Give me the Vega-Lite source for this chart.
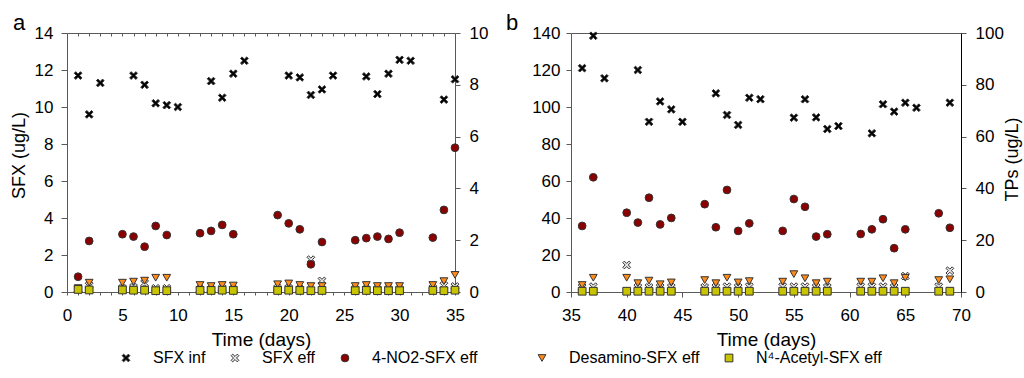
{
  "$schema": "https://vega.github.io/schema/vega-lite/v6.json",
  "padding": {"left": 10, "top": 12, "right": 1, "bottom": 0},
  "autosize": {"type": "pad"},
  "config": {
    "font": "Liberation Sans",
    "view": {"stroke": null},
    "axis": {"grid": false, "labelFontSize": 17, "labelColor": "#000", "titleColor": "#000", "titleFontWeight": "normal", "domainColor": "#595959", "tickColor": "#595959", "labelFlush": false, "labelOverlap": false},
    "legend": {"orient": "none", "direction": "horizontal", "labelFontSize": 16, "labelColor": "#000", "labelOffset": 19, "columnPadding": 21, "padding": 0, "rowPadding": 0, "symbolStrokeColor": "#333", "symbolStrokeWidth": 1},
    "title": {"fontSize": 22, "fontWeight": "normal", "anchor": "start", "color": "#000", "frame": "group", "baseline": "alphabetic"}
  },
  "datasets": {
    "a_sfx": [
      {"day": 1, "series": "SFX inf", "value": 11.7},
      {"day": 2, "series": "SFX inf", "value": 9.6},
      {"day": 3, "series": "SFX inf", "value": 11.3},
      {"day": 6, "series": "SFX inf", "value": 11.7},
      {"day": 7, "series": "SFX inf", "value": 11.2},
      {"day": 8, "series": "SFX inf", "value": 10.2},
      {"day": 9, "series": "SFX inf", "value": 10.1},
      {"day": 10, "series": "SFX inf", "value": 10.0},
      {"day": 13, "series": "SFX inf", "value": 11.4},
      {"day": 14, "series": "SFX inf", "value": 10.5},
      {"day": 15, "series": "SFX inf", "value": 11.8},
      {"day": 16, "series": "SFX inf", "value": 12.5},
      {"day": 20, "series": "SFX inf", "value": 11.7},
      {"day": 21, "series": "SFX inf", "value": 11.6},
      {"day": 22, "series": "SFX inf", "value": 10.65},
      {"day": 23, "series": "SFX inf", "value": 10.95},
      {"day": 24, "series": "SFX inf", "value": 11.7},
      {"day": 27, "series": "SFX inf", "value": 11.65},
      {"day": 28, "series": "SFX inf", "value": 10.7},
      {"day": 29, "series": "SFX inf", "value": 11.8},
      {"day": 30, "series": "SFX inf", "value": 12.55},
      {"day": 31, "series": "SFX inf", "value": 12.5},
      {"day": 34, "series": "SFX inf", "value": 10.4},
      {"day": 35, "series": "SFX inf", "value": 11.5},
      {"day": 1, "series": "SFX eff", "value": 0.15},
      {"day": 2, "series": "SFX eff", "value": 0.35},
      {"day": 5, "series": "SFX eff", "value": 0.2},
      {"day": 6, "series": "SFX eff", "value": 0.25},
      {"day": 7, "series": "SFX eff", "value": 0.47},
      {"day": 8, "series": "SFX eff", "value": 0.2},
      {"day": 9, "series": "SFX eff", "value": 0.2},
      {"day": 12, "series": "SFX eff", "value": 0.15},
      {"day": 13, "series": "SFX eff", "value": 0.15},
      {"day": 14, "series": "SFX eff", "value": 0.2},
      {"day": 15, "series": "SFX eff", "value": 0.15},
      {"day": 19, "series": "SFX eff", "value": 0.2},
      {"day": 20, "series": "SFX eff", "value": 0.2},
      {"day": 21, "series": "SFX eff", "value": 0.15},
      {"day": 22, "series": "SFX eff", "value": 1.75},
      {"day": 23, "series": "SFX eff", "value": 0.6},
      {"day": 26, "series": "SFX eff", "value": 0.15},
      {"day": 27, "series": "SFX eff", "value": 0.15},
      {"day": 28, "series": "SFX eff", "value": 0.15},
      {"day": 29, "series": "SFX eff", "value": 0.15},
      {"day": 30, "series": "SFX eff", "value": 0.15},
      {"day": 33, "series": "SFX eff", "value": 0.2},
      {"day": 34, "series": "SFX eff", "value": 0.35},
      {"day": 35, "series": "SFX eff", "value": 0.3}
    ],
    "a_tp": [
      {"day": 1, "series": "4-NO2-SFX eff", "value": 0.59},
      {"day": 2, "series": "4-NO2-SFX eff", "value": 1.97},
      {"day": 5, "series": "4-NO2-SFX eff", "value": 2.23},
      {"day": 6, "series": "4-NO2-SFX eff", "value": 2.14},
      {"day": 7, "series": "4-NO2-SFX eff", "value": 1.75},
      {"day": 8, "series": "4-NO2-SFX eff", "value": 2.55},
      {"day": 9, "series": "4-NO2-SFX eff", "value": 2.2},
      {"day": 12, "series": "4-NO2-SFX eff", "value": 2.27},
      {"day": 13, "series": "4-NO2-SFX eff", "value": 2.36},
      {"day": 14, "series": "4-NO2-SFX eff", "value": 2.59},
      {"day": 15, "series": "4-NO2-SFX eff", "value": 2.23},
      {"day": 19, "series": "4-NO2-SFX eff", "value": 2.97},
      {"day": 20, "series": "4-NO2-SFX eff", "value": 2.65},
      {"day": 21, "series": "4-NO2-SFX eff", "value": 2.42},
      {"day": 22, "series": "4-NO2-SFX eff", "value": 1.07},
      {"day": 23, "series": "4-NO2-SFX eff", "value": 1.93},
      {"day": 26, "series": "4-NO2-SFX eff", "value": 2.0},
      {"day": 27, "series": "4-NO2-SFX eff", "value": 2.08},
      {"day": 28, "series": "4-NO2-SFX eff", "value": 2.14},
      {"day": 29, "series": "4-NO2-SFX eff", "value": 2.05},
      {"day": 30, "series": "4-NO2-SFX eff", "value": 2.29},
      {"day": 33, "series": "4-NO2-SFX eff", "value": 2.1},
      {"day": 34, "series": "4-NO2-SFX eff", "value": 3.17},
      {"day": 35, "series": "4-NO2-SFX eff", "value": 5.57},
      {"day": 1, "series": "Desamino-SFX eff", "value": 0.15},
      {"day": 2, "series": "Desamino-SFX eff", "value": 0.36},
      {"day": 5, "series": "Desamino-SFX eff", "value": 0.36},
      {"day": 6, "series": "Desamino-SFX eff", "value": 0.4},
      {"day": 7, "series": "Desamino-SFX eff", "value": 0.44},
      {"day": 8, "series": "Desamino-SFX eff", "value": 0.55},
      {"day": 9, "series": "Desamino-SFX eff", "value": 0.55},
      {"day": 12, "series": "Desamino-SFX eff", "value": 0.27},
      {"day": 13, "series": "Desamino-SFX eff", "value": 0.23},
      {"day": 14, "series": "Desamino-SFX eff", "value": 0.27},
      {"day": 15, "series": "Desamino-SFX eff", "value": 0.25},
      {"day": 19, "series": "Desamino-SFX eff", "value": 0.3},
      {"day": 20, "series": "Desamino-SFX eff", "value": 0.33},
      {"day": 21, "series": "Desamino-SFX eff", "value": 0.27},
      {"day": 22, "series": "Desamino-SFX eff", "value": 0.23},
      {"day": 23, "series": "Desamino-SFX eff", "value": 0.23},
      {"day": 26, "series": "Desamino-SFX eff", "value": 0.23},
      {"day": 27, "series": "Desamino-SFX eff", "value": 0.27},
      {"day": 28, "series": "Desamino-SFX eff", "value": 0.23},
      {"day": 29, "series": "Desamino-SFX eff", "value": 0.23},
      {"day": 30, "series": "Desamino-SFX eff", "value": 0.23},
      {"day": 33, "series": "Desamino-SFX eff", "value": 0.27},
      {"day": 34, "series": "Desamino-SFX eff", "value": 0.42},
      {"day": 35, "series": "Desamino-SFX eff", "value": 0.66},
      {"day": 1, "series": "N⁴-Acetyl-SFX eff", "value": 0.1},
      {"day": 2, "series": "N⁴-Acetyl-SFX eff", "value": 0.08},
      {"day": 5, "series": "N⁴-Acetyl-SFX eff", "value": 0.08},
      {"day": 6, "series": "N⁴-Acetyl-SFX eff", "value": 0.07},
      {"day": 7, "series": "N⁴-Acetyl-SFX eff", "value": 0.07},
      {"day": 8, "series": "N⁴-Acetyl-SFX eff", "value": 0.05},
      {"day": 9, "series": "N⁴-Acetyl-SFX eff", "value": 0.05},
      {"day": 12, "series": "N⁴-Acetyl-SFX eff", "value": 0.06},
      {"day": 13, "series": "N⁴-Acetyl-SFX eff", "value": 0.06},
      {"day": 14, "series": "N⁴-Acetyl-SFX eff", "value": 0.07},
      {"day": 15, "series": "N⁴-Acetyl-SFX eff", "value": 0.06},
      {"day": 19, "series": "N⁴-Acetyl-SFX eff", "value": 0.06},
      {"day": 20, "series": "N⁴-Acetyl-SFX eff", "value": 0.07},
      {"day": 21, "series": "N⁴-Acetyl-SFX eff", "value": 0.06},
      {"day": 22, "series": "N⁴-Acetyl-SFX eff", "value": 0.05},
      {"day": 23, "series": "N⁴-Acetyl-SFX eff", "value": 0.06},
      {"day": 26, "series": "N⁴-Acetyl-SFX eff", "value": 0.05},
      {"day": 27, "series": "N⁴-Acetyl-SFX eff", "value": 0.06},
      {"day": 28, "series": "N⁴-Acetyl-SFX eff", "value": 0.05},
      {"day": 29, "series": "N⁴-Acetyl-SFX eff", "value": 0.05},
      {"day": 30, "series": "N⁴-Acetyl-SFX eff", "value": 0.05},
      {"day": 33, "series": "N⁴-Acetyl-SFX eff", "value": 0.06},
      {"day": 34, "series": "N⁴-Acetyl-SFX eff", "value": 0.05},
      {"day": 35, "series": "N⁴-Acetyl-SFX eff", "value": 0.07}
    ],
    "b_sfx": [
      {"day": 36, "series": "SFX inf", "value": 121},
      {"day": 37, "series": "SFX inf", "value": 138.5},
      {"day": 38, "series": "SFX inf", "value": 115.5},
      {"day": 41, "series": "SFX inf", "value": 120},
      {"day": 42, "series": "SFX inf", "value": 92},
      {"day": 43, "series": "SFX inf", "value": 103},
      {"day": 44, "series": "SFX inf", "value": 98.7},
      {"day": 45, "series": "SFX inf", "value": 92},
      {"day": 48, "series": "SFX inf", "value": 107.4},
      {"day": 49, "series": "SFX inf", "value": 95.7},
      {"day": 50, "series": "SFX inf", "value": 90.3},
      {"day": 51, "series": "SFX inf", "value": 105},
      {"day": 52, "series": "SFX inf", "value": 104.2},
      {"day": 55, "series": "SFX inf", "value": 94.2},
      {"day": 56, "series": "SFX inf", "value": 104.2},
      {"day": 57, "series": "SFX inf", "value": 94.4},
      {"day": 58, "series": "SFX inf", "value": 88.1},
      {"day": 59, "series": "SFX inf", "value": 89.7},
      {"day": 62, "series": "SFX inf", "value": 85.8},
      {"day": 63, "series": "SFX inf", "value": 101.5},
      {"day": 64, "series": "SFX inf", "value": 97.5},
      {"day": 65, "series": "SFX inf", "value": 102.3},
      {"day": 66, "series": "SFX inf", "value": 99.6},
      {"day": 69, "series": "SFX inf", "value": 102.3},
      {"day": 36, "series": "SFX eff", "value": 2.5},
      {"day": 37, "series": "SFX eff", "value": 2.9},
      {"day": 40, "series": "SFX eff", "value": 14.6},
      {"day": 41, "series": "SFX eff", "value": 2.5},
      {"day": 42, "series": "SFX eff", "value": 2.5},
      {"day": 43, "series": "SFX eff", "value": 2.5},
      {"day": 44, "series": "SFX eff", "value": 2.5},
      {"day": 47, "series": "SFX eff", "value": 2.5},
      {"day": 48, "series": "SFX eff", "value": 2.5},
      {"day": 49, "series": "SFX eff", "value": 2.9},
      {"day": 50, "series": "SFX eff", "value": 2.5},
      {"day": 51, "series": "SFX eff", "value": 2.9},
      {"day": 54, "series": "SFX eff", "value": 2.9},
      {"day": 55, "series": "SFX eff", "value": 2.9},
      {"day": 56, "series": "SFX eff", "value": 2.9},
      {"day": 57, "series": "SFX eff", "value": 2.5},
      {"day": 58, "series": "SFX eff", "value": 2.5},
      {"day": 61, "series": "SFX eff", "value": 2.9},
      {"day": 62, "series": "SFX eff", "value": 2.9},
      {"day": 63, "series": "SFX eff", "value": 2.9},
      {"day": 64, "series": "SFX eff", "value": 2.5},
      {"day": 65, "series": "SFX eff", "value": 8.6},
      {"day": 68, "series": "SFX eff", "value": 2.9},
      {"day": 69, "series": "SFX eff", "value": 11.5}
    ],
    "b_tp": [
      {"day": 36, "series": "4-NO2-SFX eff", "value": 25.5},
      {"day": 37, "series": "4-NO2-SFX eff", "value": 44.3},
      {"day": 40, "series": "4-NO2-SFX eff", "value": 30.6},
      {"day": 41, "series": "4-NO2-SFX eff", "value": 26.8},
      {"day": 42, "series": "4-NO2-SFX eff", "value": 36.4},
      {"day": 43, "series": "4-NO2-SFX eff", "value": 26.1},
      {"day": 44, "series": "4-NO2-SFX eff", "value": 28.6},
      {"day": 47, "series": "4-NO2-SFX eff", "value": 33.9},
      {"day": 48, "series": "4-NO2-SFX eff", "value": 25},
      {"day": 49, "series": "4-NO2-SFX eff", "value": 39.4},
      {"day": 50, "series": "4-NO2-SFX eff", "value": 23.6},
      {"day": 51, "series": "4-NO2-SFX eff", "value": 26.5},
      {"day": 54, "series": "4-NO2-SFX eff", "value": 23.6},
      {"day": 55, "series": "4-NO2-SFX eff", "value": 35.9},
      {"day": 56, "series": "4-NO2-SFX eff", "value": 32.9},
      {"day": 57, "series": "4-NO2-SFX eff", "value": 21.4},
      {"day": 58, "series": "4-NO2-SFX eff", "value": 22.3},
      {"day": 61, "series": "4-NO2-SFX eff", "value": 22.4},
      {"day": 62, "series": "4-NO2-SFX eff", "value": 24.2},
      {"day": 63, "series": "4-NO2-SFX eff", "value": 28.1},
      {"day": 64, "series": "4-NO2-SFX eff", "value": 16.9},
      {"day": 65, "series": "4-NO2-SFX eff", "value": 24.2},
      {"day": 68, "series": "4-NO2-SFX eff", "value": 30.4},
      {"day": 69, "series": "4-NO2-SFX eff", "value": 24.8},
      {"day": 36, "series": "Desamino-SFX eff", "value": 2.7},
      {"day": 37, "series": "Desamino-SFX eff", "value": 5.5},
      {"day": 40, "series": "Desamino-SFX eff", "value": 5.5},
      {"day": 41, "series": "Desamino-SFX eff", "value": 3.4},
      {"day": 42, "series": "Desamino-SFX eff", "value": 4.4},
      {"day": 43, "series": "Desamino-SFX eff", "value": 3.0},
      {"day": 44, "series": "Desamino-SFX eff", "value": 3.7},
      {"day": 47, "series": "Desamino-SFX eff", "value": 4.6},
      {"day": 48, "series": "Desamino-SFX eff", "value": 3.4},
      {"day": 49, "series": "Desamino-SFX eff", "value": 5.5},
      {"day": 50, "series": "Desamino-SFX eff", "value": 3.7},
      {"day": 51, "series": "Desamino-SFX eff", "value": 4.2},
      {"day": 54, "series": "Desamino-SFX eff", "value": 4.0},
      {"day": 55, "series": "Desamino-SFX eff", "value": 6.9},
      {"day": 56, "series": "Desamino-SFX eff", "value": 5.3},
      {"day": 57, "series": "Desamino-SFX eff", "value": 3.4},
      {"day": 58, "series": "Desamino-SFX eff", "value": 4.0},
      {"day": 61, "series": "Desamino-SFX eff", "value": 4.0},
      {"day": 62, "series": "Desamino-SFX eff", "value": 4.0},
      {"day": 63, "series": "Desamino-SFX eff", "value": 5.3},
      {"day": 64, "series": "Desamino-SFX eff", "value": 3.4},
      {"day": 65, "series": "Desamino-SFX eff", "value": 5.5},
      {"day": 68, "series": "Desamino-SFX eff", "value": 4.6},
      {"day": 69, "series": "Desamino-SFX eff", "value": 4.9},
      {"day": 36, "series": "N⁴-Acetyl-SFX eff", "value": 0.3},
      {"day": 37, "series": "N⁴-Acetyl-SFX eff", "value": 0.3},
      {"day": 40, "series": "N⁴-Acetyl-SFX eff", "value": 0.3},
      {"day": 41, "series": "N⁴-Acetyl-SFX eff", "value": 0.3},
      {"day": 42, "series": "N⁴-Acetyl-SFX eff", "value": 0.3},
      {"day": 43, "series": "N⁴-Acetyl-SFX eff", "value": 0.3},
      {"day": 44, "series": "N⁴-Acetyl-SFX eff", "value": 0.3},
      {"day": 47, "series": "N⁴-Acetyl-SFX eff", "value": 0.3},
      {"day": 48, "series": "N⁴-Acetyl-SFX eff", "value": 0.3},
      {"day": 49, "series": "N⁴-Acetyl-SFX eff", "value": 0.3},
      {"day": 50, "series": "N⁴-Acetyl-SFX eff", "value": 0.3},
      {"day": 51, "series": "N⁴-Acetyl-SFX eff", "value": 0.3},
      {"day": 54, "series": "N⁴-Acetyl-SFX eff", "value": 0.3},
      {"day": 55, "series": "N⁴-Acetyl-SFX eff", "value": 0.3},
      {"day": 56, "series": "N⁴-Acetyl-SFX eff", "value": 0.3},
      {"day": 57, "series": "N⁴-Acetyl-SFX eff", "value": 0.3},
      {"day": 58, "series": "N⁴-Acetyl-SFX eff", "value": 0.3},
      {"day": 61, "series": "N⁴-Acetyl-SFX eff", "value": 0.3},
      {"day": 62, "series": "N⁴-Acetyl-SFX eff", "value": 0.3},
      {"day": 63, "series": "N⁴-Acetyl-SFX eff", "value": 0.3},
      {"day": 64, "series": "N⁴-Acetyl-SFX eff", "value": 0.3},
      {"day": 65, "series": "N⁴-Acetyl-SFX eff", "value": 0.3},
      {"day": 68, "series": "N⁴-Acetyl-SFX eff", "value": 0.3},
      {"day": 69, "series": "N⁴-Acetyl-SFX eff", "value": 0.3}
    ]
  },
  "spacing": 18,
  "resolve": {"scale": {"color": "independent", "shape": "independent", "size": "independent"}},
  "hconcat": [
    {
      "width": 388,
      "height": 259,
      "title": {"text": "a", "dx": -54, "offset": -11},
      "resolve": {"scale": {"y": "independent"}, "axis": {"x": "independent"}},
      "layer": [
        {
          "data": {"name": "a_sfx"},
          "mark": {"type": "point", "filled": true, "opacity": 1, "stroke": "#333", "strokeWidth": 1},
          "encoding": {
            "x": {"field": "day", "type": "quantitative", "scale": {"domain": [0, 35], "nice": false},
              "axis": {"title": "Time (days)", "values": [0,1,2,3,4,5,6,7,8,9,10,11,12,13,14,15,16,17,18,19,20,21,22,23,24,25,26,27,28,29,30,31,32,33,34,35], "labelExpr": "datum.value % 5 === 0 ? datum.label : ''", "tickSize": 3, "labelPadding": 12, "titleFontSize": 19, "titlePadding": 7}},
            "y": {"field": "value", "type": "quantitative", "scale": {"domain": [0, 14], "nice": false},
              "axis": {"title": "SFX (ug/L)", "values": [0,2,4,6,8,10,12,14], "tickSize": 6, "labelPadding": 8, "titleFontSize": 18, "titlePadding": 6, "titleY": 122}},
            "shape": {"field": "series", "type": "nominal", "scale": {"domain": ["SFX inf", "SFX eff", "4-NO2-SFX eff", "Desamino-SFX eff", "N⁴-Acetyl-SFX eff"], "range": ["M-1,-0.6L-0.6,-1L0,-0.4L0.6,-1L1,-0.6L0.4,0L1,0.6L0.6,1L0,0.4L-0.6,1L-1,0.6L-0.4,0Z", "M-1,-0.6L-0.6,-1L0,-0.4L0.6,-1L1,-0.6L0.4,0L1,0.6L0.6,1L0,0.4L-0.6,1L-1,0.6L-0.4,0Z", "circle", "triangle-down", "square"]},
              "legend": {"title": null, "values": ["SFX inf", "SFX eff", "4-NO2-SFX eff"], "legendX": 51, "legendY": 317, "columns": 3}},
            "color": {"field": "series", "type": "nominal", "scale": {"domain": ["SFX inf", "SFX eff", "4-NO2-SFX eff", "Desamino-SFX eff", "N⁴-Acetyl-SFX eff"], "range": ["#000000", "#e6e6e6", "#8B0000", "#FF8C1A", "#C8C400"]},
              "legend": {"title": null, "values": ["SFX inf", "SFX eff", "4-NO2-SFX eff"], "legendX": 51, "legendY": 317, "columns": 3}},
            "size": {"field": "series", "type": "nominal", "scale": {"domain": ["SFX inf", "SFX eff", "4-NO2-SFX eff", "Desamino-SFX eff", "N⁴-Acetyl-SFX eff"], "range": [60, 60, 85, 90, 70]},
              "legend": {"title": null, "values": ["SFX inf", "SFX eff", "4-NO2-SFX eff"], "legendX": 51, "legendY": 317, "columns": 3}}
          }
        },
        {
          "data": {"name": "a_tp"},
          "mark": {"type": "point", "filled": true, "opacity": 1, "stroke": "#333", "strokeWidth": 1},
          "encoding": {
            "x": {"field": "day", "type": "quantitative", "scale": {"domain": [0, 35], "nice": false},
              "axis": {"orient": "top", "title": null, "labels": false, "values": [0,1,2,3,4,5,6,7,8,9,10,11,12,13,14,15,16,17,18,19,20,21,22,23,24,25,26,27,28,29,30,31,32,33,34,35], "tickSize": -3}},
            "y": {"field": "value", "type": "quantitative", "scale": {"domain": [0, 10], "nice": false},
              "axis": {"orient": "right", "title": null, "values": [0,2,4,6,8,10], "tickSize": 5, "labelPadding": 9}},
            "shape": {"field": "series", "type": "nominal", "scale": {"domain": ["SFX inf", "SFX eff", "4-NO2-SFX eff", "Desamino-SFX eff", "N⁴-Acetyl-SFX eff"], "range": ["M-1,-0.6L-0.6,-1L0,-0.4L0.6,-1L1,-0.6L0.4,0L1,0.6L0.6,1L0,0.4L-0.6,1L-1,0.6L-0.4,0Z", "M-1,-0.6L-0.6,-1L0,-0.4L0.6,-1L1,-0.6L0.4,0L1,0.6L0.6,1L0,0.4L-0.6,1L-1,0.6L-0.4,0Z", "circle", "triangle-down", "square"]},
              "legend": {"title": null, "values": ["SFX inf", "SFX eff", "4-NO2-SFX eff"], "legendX": 51, "legendY": 317, "columns": 3}},
            "color": {"field": "series", "type": "nominal", "scale": {"domain": ["SFX inf", "SFX eff", "4-NO2-SFX eff", "Desamino-SFX eff", "N⁴-Acetyl-SFX eff"], "range": ["#000000", "#e6e6e6", "#8B0000", "#FF8C1A", "#C8C400"]},
              "legend": {"title": null, "values": ["SFX inf", "SFX eff", "4-NO2-SFX eff"], "legendX": 51, "legendY": 317, "columns": 3}},
            "size": {"field": "series", "type": "nominal", "scale": {"domain": ["SFX inf", "SFX eff", "4-NO2-SFX eff", "Desamino-SFX eff", "N⁴-Acetyl-SFX eff"], "range": [60, 60, 85, 90, 70]},
              "legend": {"title": null, "values": ["SFX inf", "SFX eff", "4-NO2-SFX eff"], "legendX": 51, "legendY": 317, "columns": 3}}
          }
        }
      ]
    },
    {
      "width": 390,
      "height": 259,
      "title": {"text": "b", "dx": -65, "offset": -11},
      "resolve": {"scale": {"y": "independent"}, "axis": {"x": "independent"}},
      "layer": [
        {
          "data": {"name": "b_sfx"},
          "mark": {"type": "point", "filled": true, "opacity": 1, "stroke": "#333", "strokeWidth": 1},
          "encoding": {
            "x": {"field": "day", "type": "quantitative", "scale": {"domain": [35, 70], "nice": false},
              "axis": {"title": "Time (days)", "values": [35,40,45,50,55,60,65,70], "tickSize": 5, "labelPadding": 10, "titleFontSize": 19, "titlePadding": 7}},
            "y": {"field": "value", "type": "quantitative", "scale": {"domain": [0, 140], "nice": false},
              "axis": {"title": null, "values": [0,20,40,60,80,100,120,140], "tickSize": 5, "labelPadding": 6}},
            "shape": {"field": "series", "type": "nominal", "scale": {"domain": ["SFX inf", "SFX eff", "4-NO2-SFX eff", "Desamino-SFX eff", "N⁴-Acetyl-SFX eff"], "range": ["M-1,-0.6L-0.6,-1L0,-0.4L0.6,-1L1,-0.6L0.4,0L1,0.6L0.6,1L0,0.4L-0.6,1L-1,0.6L-0.4,0Z", "M-1,-0.6L-0.6,-1L0,-0.4L0.6,-1L1,-0.6L0.4,0L1,0.6L0.6,1L0,0.4L-0.6,1L-1,0.6L-0.4,0Z", "circle", "triangle-down", "square"]},
              "legend": {"title": null, "values": ["Desamino-SFX eff", "N⁴-Acetyl-SFX eff"], "legendX": -37, "legendY": 317, "columns": 2}},
            "color": {"field": "series", "type": "nominal", "scale": {"domain": ["SFX inf", "SFX eff", "4-NO2-SFX eff", "Desamino-SFX eff", "N⁴-Acetyl-SFX eff"], "range": ["#000000", "#e6e6e6", "#8B0000", "#FF8C1A", "#C8C400"]},
              "legend": {"title": null, "values": ["Desamino-SFX eff", "N⁴-Acetyl-SFX eff"], "legendX": -37, "legendY": 317, "columns": 2}},
            "size": {"field": "series", "type": "nominal", "scale": {"domain": ["SFX inf", "SFX eff", "4-NO2-SFX eff", "Desamino-SFX eff", "N⁴-Acetyl-SFX eff"], "range": [60, 60, 85, 90, 70]},
              "legend": {"title": null, "values": ["Desamino-SFX eff", "N⁴-Acetyl-SFX eff"], "legendX": -37, "legendY": 317, "columns": 2}}
          }
        },
        {
          "data": {"name": "b_tp"},
          "mark": {"type": "point", "filled": true, "opacity": 1, "stroke": "#333", "strokeWidth": 1},
          "encoding": {
            "x": {"field": "day", "type": "quantitative", "scale": {"domain": [35, 70], "nice": false},
              "axis": {"orient": "top", "title": null, "labels": false, "ticks": false}},
            "y": {"field": "value", "type": "quantitative", "scale": {"domain": [0, 100], "nice": false},
              "axis": {"orient": "right", "title": "TPs (ug/L)", "titleAngle": 270, "titleBaseline": "top", "titleFontSize": 18, "titlePadding": 0, "titleY": 126, "values": [0,20,40,60,80,100], "tickSize": 5, "labelPadding": 9, "domainColor": "#000"}},
            "shape": {"field": "series", "type": "nominal", "scale": {"domain": ["SFX inf", "SFX eff", "4-NO2-SFX eff", "Desamino-SFX eff", "N⁴-Acetyl-SFX eff"], "range": ["M-1,-0.6L-0.6,-1L0,-0.4L0.6,-1L1,-0.6L0.4,0L1,0.6L0.6,1L0,0.4L-0.6,1L-1,0.6L-0.4,0Z", "M-1,-0.6L-0.6,-1L0,-0.4L0.6,-1L1,-0.6L0.4,0L1,0.6L0.6,1L0,0.4L-0.6,1L-1,0.6L-0.4,0Z", "circle", "triangle-down", "square"]},
              "legend": {"title": null, "values": ["Desamino-SFX eff", "N⁴-Acetyl-SFX eff"], "legendX": -37, "legendY": 317, "columns": 2}},
            "color": {"field": "series", "type": "nominal", "scale": {"domain": ["SFX inf", "SFX eff", "4-NO2-SFX eff", "Desamino-SFX eff", "N⁴-Acetyl-SFX eff"], "range": ["#000000", "#e6e6e6", "#8B0000", "#FF8C1A", "#C8C400"]},
              "legend": {"title": null, "values": ["Desamino-SFX eff", "N⁴-Acetyl-SFX eff"], "legendX": -37, "legendY": 317, "columns": 2}},
            "size": {"field": "series", "type": "nominal", "scale": {"domain": ["SFX inf", "SFX eff", "4-NO2-SFX eff", "Desamino-SFX eff", "N⁴-Acetyl-SFX eff"], "range": [60, 60, 85, 90, 70]},
              "legend": {"title": null, "values": ["Desamino-SFX eff", "N⁴-Acetyl-SFX eff"], "legendX": -37, "legendY": 317, "columns": 2}}
          }
        }
      ]
    }
  ]
}
